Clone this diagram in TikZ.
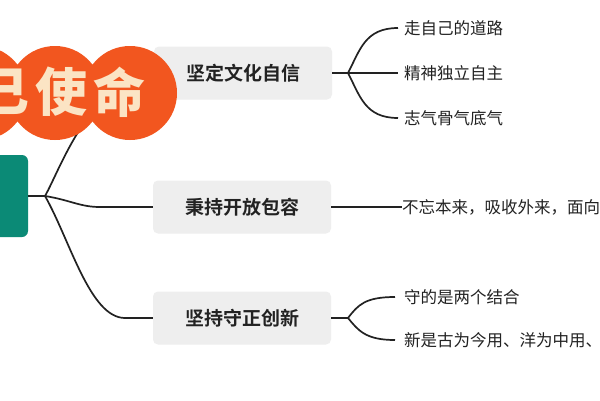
\documentclass[tikz,border=0pt]{standalone}
\usepackage{fontspec}
\setmainfont{Noto Sans CJK SC}
\newfontfamily\cjkb{Noto Sans CJK SC Bold}
\newfontfamily\cjkh{Noto Sans CJK SC Black}
\definecolor{teal1}{HTML}{0B8A76}
\definecolor{orng}{HTML}{F2561F}
\definecolor{cream}{HTML}{FBE4C4}
\definecolor{boxg}{HTML}{EEEEEE}
\definecolor{ink}{HTML}{222222}
\tikzset{
 topic/.style={fill=boxg,rounded corners=5pt,minimum width=178pt,minimum height=53pt,font=\cjkb\fontsize{19}{19}\selectfont,text=ink,anchor=center},
 leaf/.style={anchor=west,font=\fontsize{16.5}{17}\selectfont,text=ink,inner sep=0pt},
 conn/.style={draw=ink,line width=1.7pt},
 big/.style={font=\cjkh\fontsize{52}{52}\selectfont,text=cream}
}
\begin{document}
\begin{tikzpicture}[x=1pt,y=-1pt]
\useasboundingbox (0,0) rectangle (600,400);
\clip (0,0) rectangle (600,400);
\fill[white] (0,0) rectangle (600,400);
% root box
\fill[teal1,rounded corners=6pt] (-40,155) rectangle (28,237);
\coordinate (root) at (28,196);
\coordinate (J) at (45,196);
% topics
\node[topic] (t1) at (243,73) {坚定文化自信};
\node[topic] (t2) at (242,207) {秉持开放包容};
\node[topic] (t3) at (242,318) {坚持守正创新};
% main connectors
\draw[conn] (root) -- (J);
\draw[conn] (J) .. controls (60,170) and (90,80) .. (t1.west);
\draw[conn] (J) .. controls (70,200) and (80,207) .. (100,207) -- (t2.west);
\draw[conn] (J) .. controls (70,240) and (90,318) .. (125,318) -- (t3.west);
% banner
\fill[orng] (130,93) circle (47) (55,93) circle (47) (-20,93) circle (47);
\node[big] (c1) at (4,92) {己};
\node[big] (c2) at (61,92) {使};
\node[big] (c3) at (119,92) {命};
% leaves top
\coordinate (a) at (348,73);
\node[leaf] (l1) at (404,28) {走自己的道路};
\node[leaf] (l2) at (404,73) {精神独立自主};
\node[leaf] (l3) at (404,118) {志气骨气底气};
\draw[conn] (t1.east) -- (a);
\draw[conn] (a) .. controls (360,50) and (365,28) .. (398,28);
\draw[conn] (a) -- (398,73);
\draw[conn] (a) .. controls (360,96) and (365,118) .. (398,118);
% middle
\node[leaf] (l4) at (402,207) {不忘本来，吸收外来，面向未来};
\draw[conn] (t2.east) -- (l4.west);
% bottom
\coordinate (b) at (348,318);
\node[leaf] (l5) at (404,297) {守的是两个结合};
\node[leaf] (l6) at (404,340) {新是古为今用、洋为中用、辩证取舍};
\draw[conn] (t3.east) -- (b);
\draw[conn] (b) .. controls (358,305) and (365,297) .. (395,297);
\draw[conn] (b) .. controls (358,330) and (365,340) .. (395,340);
\end{tikzpicture}
\end{document}
